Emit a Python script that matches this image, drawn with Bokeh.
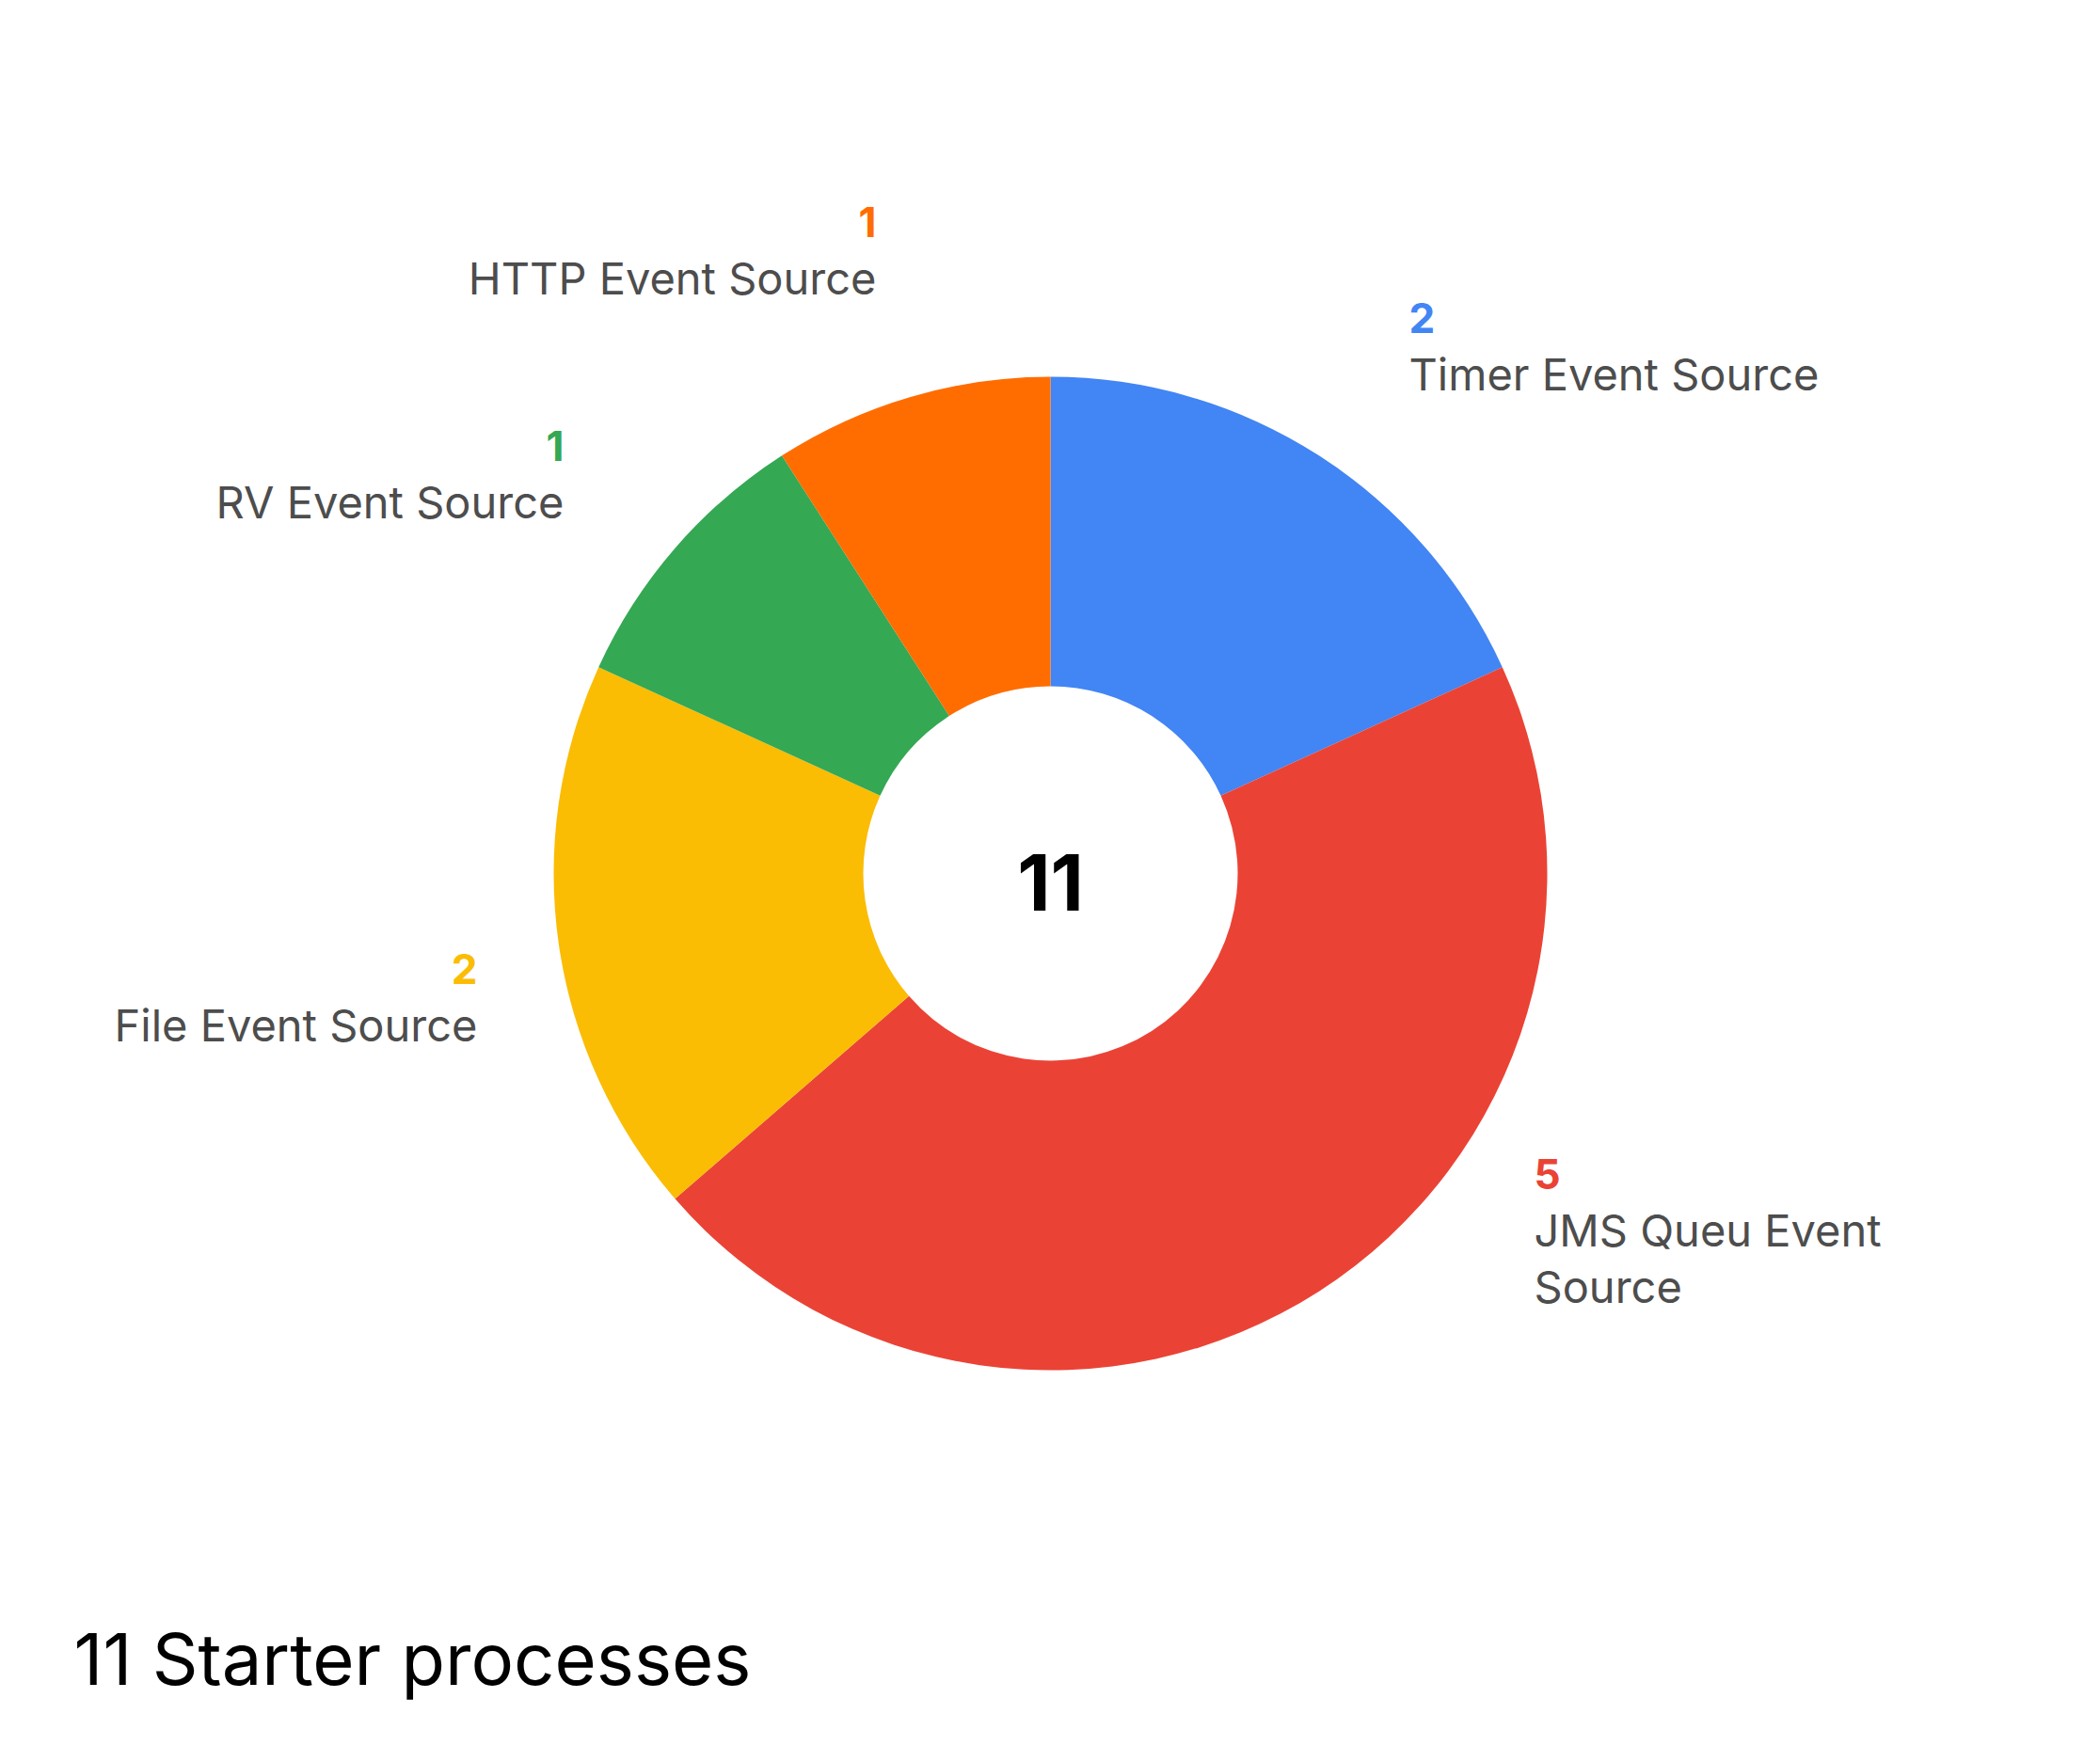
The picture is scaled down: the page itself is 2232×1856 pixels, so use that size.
from bokeh.plotting import figure
from bokeh.models import ColumnDataSource, Range1d
from bokeh.core.properties import value
from bokeh.embed import file_html
from bokeh.resources import INLINE
import math

# ---- data ----
categories = ["Timer Event Source", "JMS Queu Event\nSource", "File Event Source",
              "RV Event Source", "HTTP Event Source"]
counts = [2, 5, 2, 1, 1]
colors = ["#4285F4", "#EA4335", "#FBBC04", "#34A853", "#FF6D01"]
title_text = "11 Starter processes"

# ---- layout (pixel space) ----
W, H = 2232, 1856
CX, CY = 1116, H - 928
R_OUT, R_IN = 528, 199
# label anchors: (x, y_screen_of_number, align)
label_pos = [(1497, 337, "left"), (1630, 1247, "left"), (507, 1029, "right"),
             (599, 473, "right"), (931, 235, "right")]
LABEL_GAP = 60

total = sum(counts)
starts, ends = [], []
acc = 0
for c in counts:
    starts.append(math.pi / 2 - 2 * math.pi * acc / total)
    acc += c
    ends.append(math.pi / 2 - 2 * math.pi * acc / total)

src = ColumnDataSource(dict(start=starts, end=ends, color=colors))

p = figure(width=W, height=H, output_backend="svg", toolbar_location=None,
           x_range=Range1d(0, W), y_range=Range1d(0, H), min_border=0)
p.axis.visible = False
p.grid.visible = False
p.outline_line_color = None
p.background_fill_color = "white"
p.border_fill_color = "white"

p.annular_wedge(x=CX, y=CY, inner_radius=R_IN, outer_radius=R_OUT,
                start_angle="start", end_angle="end", direction="clock",
                color="color", line_color=None, source=src)

for cat, cnt, col, (lx, ly, al) in zip(categories, counts, colors, label_pos):
    p.text(x=[lx], y=[H - ly], text=[str(cnt)], text_color=col,
           text_font=value("Inter"), text_font_style="bold",
           text_font_size="44px", text_align=al, text_baseline="middle")
    lines = cat.split("\n")
    for i, ln in enumerate(lines):
        p.text(x=[lx], y=[H - ly - LABEL_GAP - i * LABEL_GAP], text=[ln],
               text_color="#4d4d4d", text_font=value("Inter"),
               text_font_size="47px", text_align=al, text_baseline="middle")

p.text(x=[CX], y=[CY - 9], text=[str(total)], text_color="#000000",
       text_font=value("Inter"), text_font_style="bold", text_font_size="82px",
       text_align="center", text_baseline="middle")

p.text(x=[78], y=[H - 1762], text=[title_text], text_color="#000000",
       text_font=value("Inter"), text_font_size="76px",
       text_align="left", text_baseline="middle")

open("out.html", "w").write(file_html(p, INLINE))
